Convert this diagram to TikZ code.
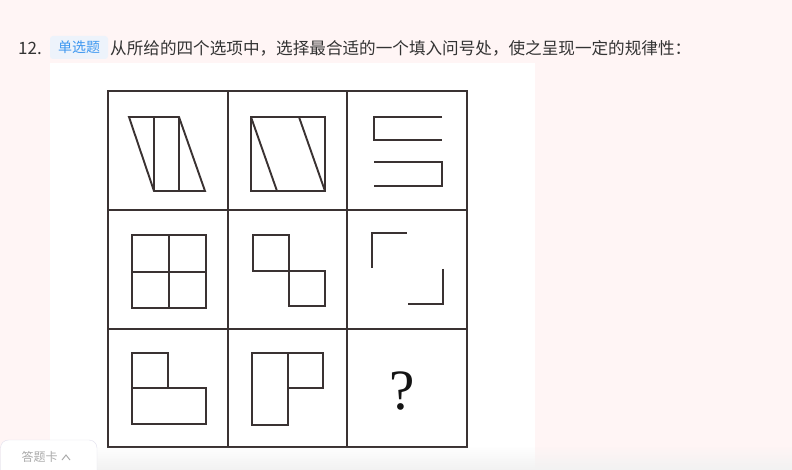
\documentclass[tikz,border=0pt]{standalone}
\usepackage{fontspec}
\setmainfont{Liberation Serif}
\newfontfamily\cjk{Noto Sans CJK SC}
\usetikzlibrary{fadings}
\definecolor{pagecolor}{HTML}{FFF5F5}
\definecolor{figcolor}{HTML}{3A3232}
\definecolor{textcolor}{HTML}{333333}
\definecolor{badgecolor}{HTML}{EDF3FB}
\definecolor{badgetext}{HTML}{3D97F0}
\definecolor{tabborder}{HTML}{E2E0EE}
\definecolor{tabtext}{HTML}{ABABAB}

\begin{document}
\begin{tikzpicture}[x = 1pt, y = -1pt,
                    gridline/.style = {draw = figcolor,
                                       line width = 2pt,
                                       line join = miter},
                    figline/.style = {draw = figcolor,
                                      line width = 1.9pt,
                                      line join = miter},
                    header/.style = {anchor = west,
                                     inner sep = 0pt,
                                     text = textcolor,
                                     font = \cjk\fontsize{16.6}{20}\selectfont}]

\useasboundingbox (0,0) rectangle (792,470);
\fill[pagecolor] (0,0) rectangle (792,470);
\fill[white] (50,63) rectangle (535,470);

% question line
\node[header, font = \cjk\fontsize{17}{20}\selectfont] (num) at (18,48) {12.};
\fill[badgecolor, rounded corners = 3pt] (50,36) rectangle (108,59);
\node[text = badgetext, inner sep = 0pt,
      font = \cjk\fontsize{14}{16}\selectfont] (badge) at (79,47.5) {单选题};
\node[header] (question) at (110,48) {从所给的四个选项中，选择最合适的一个填入问号处，使之呈现一定的规律性：};

% grid
\draw[gridline] (108,91) rectangle (467,447);
\foreach \x in {228, 347}
  \draw[gridline] (\x,91) -- (\x,447);
\foreach \y in {210, 329}
  \draw[gridline] (108,\y) -- (467,\y);

% row 1
\draw[figline] (129,117) -- (179,117) -- (205,191) -- (154,191) -- cycle;
\draw[figline] (154,117) -- (154,191);
\draw[figline] (179,117) -- (179,191);
\draw[figline] (251,117) rectangle (325,191);
\draw[figline] (251,117) -- (277,191);
\draw[figline] (299,117) -- (325,191);
\draw[figline] (442,117) -- (374,117) -- (374,140) -- (442,140);
\draw[figline] (374,162) -- (442,162) -- (442,186) -- (374,186);

% row 2
\draw[figline] (132,235) rectangle (206,308);
\draw[figline] (169,235) -- (169,308);
\draw[figline] (132,272) -- (206,272);
\draw[figline] (253,235) rectangle (289,271);
\draw[figline] (289,271) rectangle (325,306);
\draw[figline] (372,268) -- (372,233) -- (407,233);
\draw[figline] (443,269) -- (443,304) -- (408,304);

% row 3
\draw[figline] (132,353) rectangle (168,388);
\draw[figline] (132,388) rectangle (206,424);
\draw[figline] (252,353) rectangle (288,425);
\draw[figline] (288,353) rectangle (323,388);
\node[text = black!92, inner sep = 0pt,
      font = \fontsize{57}{60}\selectfont] (mark) at (402,391) {?};

% bottom bar
\fill[black!5, path fading = north] (0,446) rectangle (792,470);
\draw[tabborder, fill = white, rounded corners = 8pt]
  (0.5,471) -- (0.5,440) -- (97,440) -- (97,471);
\node[text = tabtext, inner sep = 0pt,
      font = \cjk\fontsize{12}{14}\selectfont] (card) at (39.5,457) {答题卡};
\draw[tabtext, line width = 1pt] (62,460) -- (66,455) -- (70,460);

\end{tikzpicture}
\end{document}
